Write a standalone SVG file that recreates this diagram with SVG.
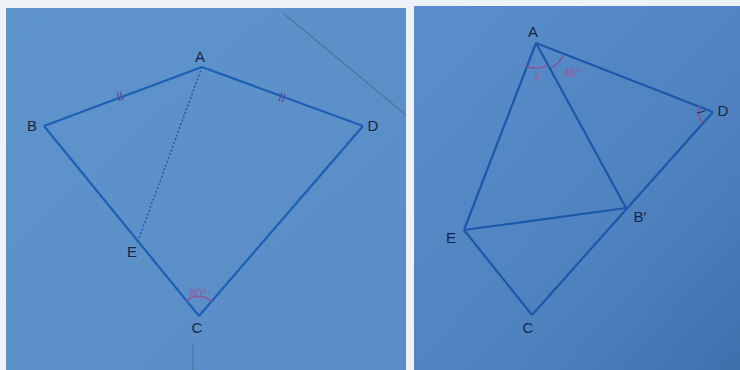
<svg xmlns="http://www.w3.org/2000/svg" width="740" height="370" viewBox="0 0 740 370">
<defs>
<linearGradient id="bgL" x1="0" y1="0" x2="1" y2="1">
<stop offset="0" stop-color="#5e94cc"/><stop offset="1" stop-color="#5a8cc6"/>
</linearGradient>
<linearGradient id="bgR" x1="0" y1="0" x2="1" y2="1">
<stop offset="0" stop-color="#5a8fcb"/><stop offset="0.6" stop-color="#4f83c0"/><stop offset="1" stop-color="#4070ac"/>
</linearGradient>
<style>
.edge{stroke:#1c60b6;stroke-width:2.2;fill:none;stroke-linejoin:round}
.edgeR{stroke:#1a58aa;stroke-width:2.2;fill:none}
.dot{stroke:#1f58a8;stroke-width:1.4;stroke-dasharray:2 2;fill:none}
.lbl{font-family:"Liberation Sans",Arial,sans-serif;font-size:15px;fill:#14264a;text-anchor:middle}
.ang{font-family:"Liberation Sans",Arial,sans-serif;font-size:12px;fill:#9b5a9a;text-anchor:middle}
.arc{stroke:#8a4f96;stroke-width:1.4;fill:none}
.tick{stroke:#5a4a9a;stroke-width:1.3}
.pencil{stroke:#56698a;stroke-width:1.2;fill:none;opacity:0.8}
</style>
</defs>
<rect width="740" height="370" fill="#eef2f6"/>
<rect x="6" y="8" width="400" height="362" fill="url(#bgL)"/>
<rect x="414" y="6" width="326" height="364" fill="url(#bgR)"/>
<g id="pencil-marks">
<line class="pencil" x1="283" y1="13" x2="406" y2="115"/>
<line class="pencil" x1="193" y1="345" x2="193" y2="370"/>
</g>
<g id="connectors">
<line class="edge" x1="202" y1="67" x2="44" y2="126"/>
<line class="edge" x1="202" y1="67" x2="363" y2="126"/>
<line class="edge" x1="44" y1="126" x2="199" y2="316"/>
<line class="edge" x1="363" y1="126" x2="199" y2="316"/>
<line class="dot" x1="202" y1="67" x2="138" y2="241"/>
<line class="edgeR" x1="536" y1="43" x2="464" y2="230"/>
<line class="edgeR" x1="536" y1="43" x2="626" y2="208"/>
<line class="edgeR" x1="536" y1="43" x2="713" y2="112"/>
<line class="edgeR" x1="713" y1="112" x2="532" y2="315"/>
<line class="edgeR" x1="464" y1="230" x2="626" y2="208"/>
<line class="edgeR" x1="464" y1="230" x2="532" y2="315"/>
</g>
<g id="marks">
<line class="tick" x1="117" y1="93" x2="120" y2="101"/>
<line class="tick" x1="120" y1="92" x2="123" y2="100"/>
<line class="tick" x1="279" y1="101" x2="282" y2="93"/>
<line class="tick" x1="282" y1="102" x2="285" y2="94"/>
<path class="arc" d="M186 301 A19 19 0 0 1 212 302"/>
<path class="arc" d="M526 66 A25 25 0 0 0 548 65"/>
<path class="arc" d="M551 68 A29 29 0 0 0 564 54"/>
<path class="arc" d="M700 106 A14 14 0 0 0 703 123" stroke="#1d2f50"/>
<line x1="697" y1="113" x2="705" y2="111" stroke="#1d2f50" stroke-width="1.2"/>
</g>
<g id="node-A1"><text class="lbl" x="200" y="62">A</text></g>
<g id="node-B1"><text class="lbl" x="32" y="131">B</text></g>
<g id="node-D1"><text class="lbl" x="373" y="131">D</text></g>
<g id="node-E1"><text class="lbl" x="132" y="257">E</text></g>
<g id="node-C1"><text class="lbl" x="197" y="333">C</text><text class="ang" x="198" y="298">80°</text></g>
<g id="node-A2"><text class="lbl" x="533" y="37">A</text><text class="ang" x="537" y="81">x</text><text class="ang" x="572" y="77">40°</text></g>
<g id="node-D2"><text class="lbl" x="723" y="116">D</text></g>
<g id="node-B2"><text class="lbl" x="640" y="222">B′</text></g>
<g id="node-E2"><text class="lbl" x="451" y="243">E</text></g>
<g id="node-C2"><text class="lbl" x="528" y="333">C</text></g>
</svg>
